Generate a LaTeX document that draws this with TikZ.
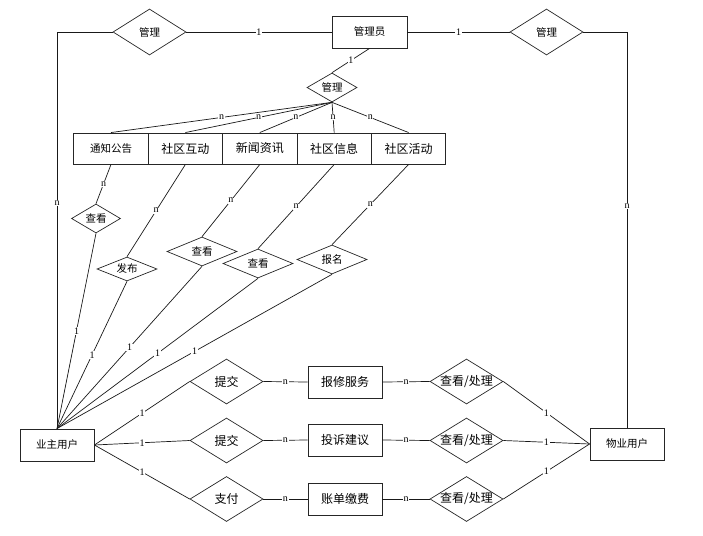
\documentclass[tikz,border=0pt]{standalone}
\usepackage{fontspec}
\newfontfamily\cjk{Noto Sans CJK SC}
\newfontfamily\labfont{Liberation Serif}
\usetikzlibrary{shapes.geometric}
\newcommand\zw[1]{\makebox[0pt]{#1}}
\tikzset{
  ent/.style={draw=black!85, line width=0.9pt, rectangle, inner sep=0pt, minimum width=74pt, minimum height=32pt, font=\cjk\fontsize{12}{12}\selectfont},
  smallent/.style={ent, font=\cjk\fontsize{10.5}{10.5}\selectfont},
  rel/.style={draw=black!85, line width=0.7pt, diamond, inner sep=0pt, minimum width=73pt, minimum height=45pt, font=\cjk\fontsize{12}{12}\selectfont},
  smallrel/.style={rel, font=\cjk\fontsize{10.5}{10.5}\selectfont},
  conn/.style={draw=black!90, line width=0.7pt},
  lab/.style={fill=white, inner sep=0.6pt, font=\labfont\fontsize{10}{10}\selectfont}
}
\begin{document}
\begin{tikzpicture}[x=1pt,y=-1pt]
\useasboundingbox (0,0) rectangle (703,535);
% top
\node[smallent, minimum width=75pt] (admin) at (369.5,32) {管理员};
\node[smallrel, minimum height=46pt] (d1) at (149.5,32) {\zw{管理}};
\node[smallrel, minimum height=46pt] (d2) at (546.5,32) {\zw{管理}};
\node[smallrel, minimum width=50pt, minimum height=29pt] (dm) at (332,87.5) {\zw{管理}};
% entity row
\node[smallent, minimum width=74.4pt, minimum height=31pt] (e1) at (111,148.5) {通知公告};
\node[ent, minimum width=74.4pt, minimum height=31pt] (e2) at (185.4,148.5) {社区互动};
\node[ent, minimum width=74.4pt, minimum height=31pt] (e3) at (259.8,148.5) {新闻资讯};
\node[ent, minimum width=74.4pt, minimum height=31pt] (e4) at (334.2,148.5) {社区信息};
\node[ent, minimum width=74.4pt, minimum height=31pt] (e5) at (408.6,148.5) {社区活动};
% lower diamonds
\node[smallrel, minimum width=49pt, minimum height=29pt] (v1) at (96,218.5) {\zw{查看}};
\node[smallrel, minimum width=60pt, minimum height=24pt] (v2) at (127,269) {\zw{发布}};
\node[smallrel, minimum width=70pt, minimum height=29pt] (v3) at (202,251.5) {\zw{查看}};
\node[smallrel, minimum width=70pt, minimum height=29pt] (v4) at (258,263.5) {\zw{查看}};
\node[smallrel, minimum width=70pt, minimum height=29pt] (v5) at (332,259.5) {\zw{报名}};
% users
\node[smallent] (yz) at (57,445) {业主用户};
\node[smallent] (wy) at (627,444) {物业用户};
% bottom section
\node[rel] (s1) at (226.5,381.5) {\zw{提交}};
\node[rel] (s2) at (226.5,440.5) {\zw{提交}};
\node[rel] (s3) at (226.5,499) {\zw{支付}};
\node[ent] (b1) at (345,382) {报修服务};
\node[ent] (b2) at (345,440) {投诉建议};
\node[ent] (b3) at (345,499) {账单缴费};
\node[rel] (c1) at (466.5,381.5) {\zw{查看/处理}};
\node[rel] (c2) at (466.5,440.5) {\zw{查看/处理}};
\node[rel] (c3) at (466.5,499) {\zw{查看/处理}};
% connectors top
\draw[conn] (d1.east) -- node[lab]{1} (admin.west);
\draw[conn] (admin.east) -- node[lab]{1} (d2.west);
\draw[conn] (d1.west) -| node[lab, pos=0.716]{n} (yz.north);
\draw[conn] (d2.east) -| node[lab, pos=0.72]{n} (wy.north);
\draw[conn] (admin.south) -- node[lab]{1} (dm.north);
\foreach \e in {e1,e2,e3,e4,e5}{
  \draw[conn] (dm.south) -- node[lab]{n} (\e.north);
}
% entity row to diamonds
\draw[conn] (e1.south) -- node[lab]{n} (v1.north);
\draw[conn] (e2.south) -- node[lab]{n} (v2.north);
\draw[conn] (e3.south) -- node[lab]{n} (v3.north);
\draw[conn] (e4.south) -- node[lab]{n} (v4.north);
\draw[conn] (e5.south) -- node[lab]{n} (v5.north);
\foreach \v in {v1,v2,v3,v4,v5}{
  \draw[conn] (\v.south) -- node[lab]{1} (yz.north);
}
% bottom connectors
\draw[conn] (yz.east) -- node[lab]{1} (s1.west);
\draw[conn] (yz.east) -- node[lab]{1} (s2.west);
\draw[conn] (yz.east) -- node[lab]{1} (s3.west);
\draw[conn] (s1.east) -- node[lab]{n} (b1.west);
\draw[conn] (s2.east) -- node[lab]{n} (b2.west);
\draw[conn] (s3.east) -- node[lab]{n} (b3.west);
\draw[conn] (b1.east) -- node[lab]{n} (c1.west);
\draw[conn] (b2.east) -- node[lab]{n} (c2.west);
\draw[conn] (b3.east) -- node[lab]{n} (c3.west);
\draw[conn] (c1.east) -- node[lab]{1} (wy.west);
\draw[conn] (c2.east) -- node[lab]{1} (wy.west);
\draw[conn] (c3.east) -- node[lab]{1} (wy.west);
\end{tikzpicture}
\end{document}
